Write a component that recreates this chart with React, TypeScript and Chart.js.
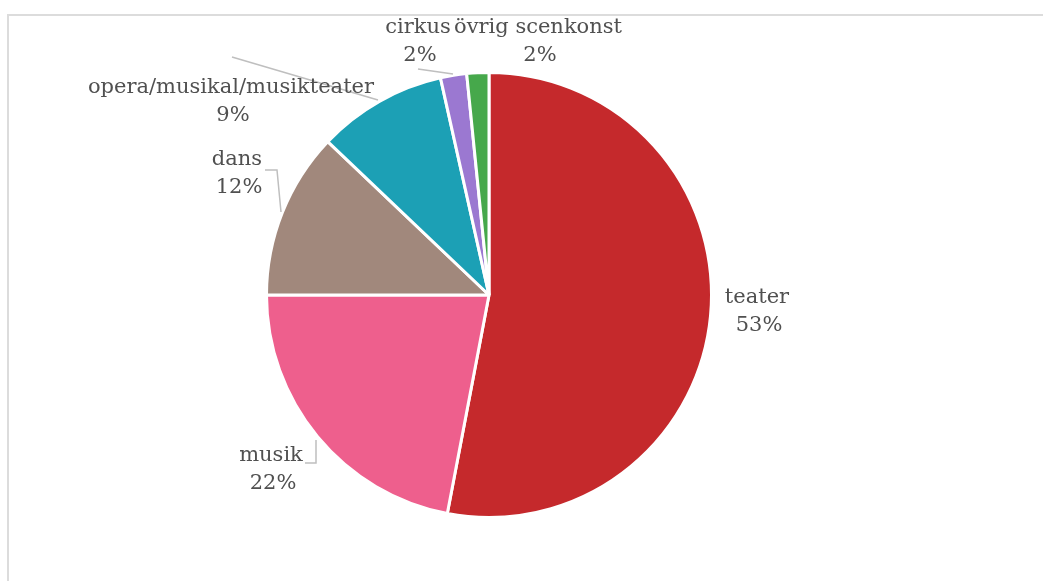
import React, { useEffect, useRef } from "react";
import { Chart, registerables } from "chart.js";

Chart.register(...registerables);

const categories = ["teater", "musik", "dans", "opera/musikal/musikteater", "cirkus", "övrig scenkonst"];
const values = [53.0, 22.0, 12.1, 9.4, 1.9, 1.6];
const percentLabels = ["53%", "22%", "12%", "9%", "2%", "2%"];
const colors = ["#C5292C", "#EE5F8D", "#A1887C", "#1CA0B5", "#9B78D1", "#46A84B"];

const FONT = '21px "DejaVu Serif"';
const TEXT_COLOR = "#505050";
const LINE_COLOR = "#BFBFBF";

// label anchor positions (text centres) and leader lines, in canvas pixels
const labelPos: [number, number][] = [
  [757, 298],
  [271, 456],
  [237, 160],
  [231, 88],
  [418, 28],
  [538, 28],
];
const leaders: [number, number][][] = [
  [],
  [[305, 463], [316, 463], [316, 440]],
  [[265, 170], [277, 170], [281, 212]],
  [[232, 57], [378, 100]],
  [[418, 69], [453, 74]],
  [],
];

const labelPlugin = {
  id: "pieLabels",
  afterDraw(chart: any) {
    const ctx = chart.ctx as CanvasRenderingContext2D;
    ctx.save();
    ctx.strokeStyle = LINE_COLOR;
    ctx.lineWidth = 1.5;
    leaders.forEach((pts) => {
      if (pts.length < 2) return;
      ctx.beginPath();
      ctx.moveTo(pts[0][0], pts[0][1]);
      for (let i = 1; i < pts.length; i++) ctx.lineTo(pts[i][0], pts[i][1]);
      ctx.stroke();
    });
    ctx.font = FONT;
    ctx.fillStyle = TEXT_COLOR;
    ctx.textAlign = "center";
    ctx.textBaseline = "middle";
    categories.forEach((c, i) => {
      const [x, y] = labelPos[i];
      ctx.fillText(c, x, y);
      ctx.fillText(percentLabels[i], x + 2, y + 28);
    });
    ctx.restore();
  },
};

export default function App() {
  const ref = useRef<HTMLCanvasElement>(null);
  useEffect(() => {
    if (!ref.current) return;
    const chart = new Chart(ref.current, {
      type: "pie",
      data: {
        labels: categories,
        datasets: [
          {
            data: values,
            backgroundColor: colors,
            borderColor: "#FFFFFF",
            borderWidth: 3,
          },
        ],
      },
      options: {
        animation: false,
        responsive: false,
        maintainAspectRatio: false,
        layout: { padding: { left: 265, top: 71, right: 330, bottom: 62 } },
        plugins: { legend: { display: false }, tooltip: { enabled: false } },
      },
      plugins: [labelPlugin],
    });
    return () => chart.destroy();
  }, []);
  return (
    <div style={{ position: "fixed", left: 0, top: 0, width: 1043, height: 581, background: "#fff", overflow: "hidden" }}>
      <div
        style={{
          position: "absolute",
          left: 7,
          top: 14,
          width: 1100,
          height: 700,
          borderLeft: "2px solid #DCDCDC",
          borderTop: "2px solid #DCDCDC",
        }}
      />
      <canvas ref={ref} width={1043} height={581} style={{ position: "absolute", left: 0, top: 0 }} />
    </div>
  );
}
